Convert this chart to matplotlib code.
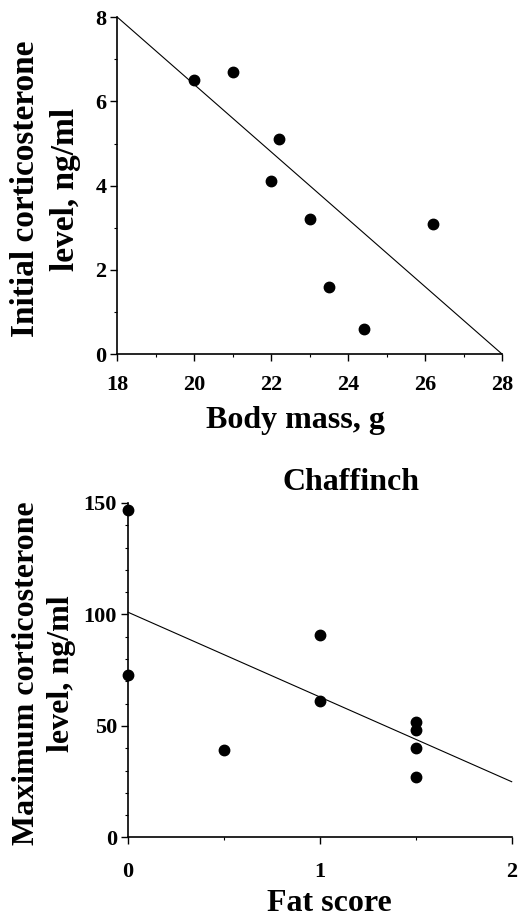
import matplotlib
matplotlib.use('Agg')
import matplotlib.pyplot as plt
import numpy as np
from matplotlib.ticker import MultipleLocator

# --- Data ---
# Panel 1: body mass vs initial corticosterone
body_mass = [20.0, 21.0, 22.2, 22.0, 23.0, 23.5, 24.4, 26.2]
cort_init = [6.5, 6.7, 5.1, 4.1, 3.2, 1.6, 0.6, 3.1]
fit1_x = [18, 28]
fit1_slope, fit1_icpt = -0.8, 22.4

# Panel 2: Chaffinch, fat score vs maximum corticosterone
fat_score = [0, 0, 0.5, 1, 1, 1.5, 1.5, 1.5, 1.5]
cort_max = [147, 73, 39, 91, 61, 52, 48, 40, 27]
fit2_x = [0, 2]
fit2_slope, fit2_icpt = -38.0, 101.0

plt.rcParams['font.family'] = ['Liberation Serif', 'DejaVu Serif']
plt.rcParams['font.weight'] = 'bold'

fig = plt.figure(figsize=(5.18, 9.21), dpi=100)

ax1 = fig.add_axes([0.2268, 0.6156, 0.7423, 0.3656])
ax2 = fig.add_axes([0.2471, 0.0907, 0.7407, 0.3632])


def style(ax):
    for s in ['top', 'right']:
        ax.spines[s].set_visible(False)
    for s in ['left', 'bottom']:
        ax.spines[s].set_linewidth(1.2)
    ax.tick_params(which='major', length=5, width=1.0, labelsize=16)
    ax.tick_params(which='minor', length=2.5, width=0.8)
    for lab in ax.get_xticklabels() + ax.get_yticklabels():
        lab.set_fontweight('bold')


# --- Panel 1 ---
xx = np.array(fit1_x)
ax1.plot(xx, fit1_slope * xx + fit1_icpt, color='black', lw=0.8, clip_on=False)
ax1.plot(body_mass, cort_init, 'o', color='black', ms=7.5, clip_on=False)
ax1.set_xlim(18, 28)
ax1.set_ylim(0, 8)
ax1.xaxis.set_major_locator(MultipleLocator(2))
ax1.xaxis.set_minor_locator(MultipleLocator(1))
ax1.yaxis.set_major_locator(MultipleLocator(2))
ax1.yaxis.set_minor_locator(MultipleLocator(1))
style(ax1)
ax1.tick_params(axis='x', which='major', pad=10)
ax1.tick_params(axis='y', which='major', pad=3)
ax1.set_ylabel('Initial corticosterone\nlevel, ng/ml', fontsize=24,
               fontweight='bold', linespacing=1.35, va='center', ha='center')
ax1.yaxis.set_label_coords(-0.187, 0.49)
ax1.set_xlabel('Body mass, g', fontsize=23, fontweight='bold', va='center')
ax1.xaxis.set_label_coords(0.464, -0.196)

# --- Panel 2 ---
xx = np.array(fit2_x)
ax2.plot(xx, fit2_slope * xx + fit2_icpt, color='black', lw=0.8, clip_on=False)
ax2.plot(fat_score, cort_max, 'o', color='black', ms=7.5, clip_on=False)
ax2.set_xlim(0, 2)
ax2.set_ylim(0, 150)
ax2.xaxis.set_major_locator(MultipleLocator(1))
ax2.xaxis.set_minor_locator(MultipleLocator(0.5))
ax2.yaxis.set_major_locator(MultipleLocator(50))
ax2.yaxis.set_minor_locator(MultipleLocator(10))
style(ax2)
ax2.tick_params(axis='x', which='major', pad=13)
ax2.tick_params(axis='y', which='major', pad=3)
ax2.set_ylabel('Maximum corticosterone\nlevel, ng/ml', fontsize=23,
               fontweight='bold', linespacing=1.25, va='center', ha='center')
ax2.yaxis.set_label_coords(-0.219, 0.49)
ax2.set_xlabel('Fat score', fontsize=23, fontweight='bold', va='center')
ax2.xaxis.set_label_coords(0.525, -0.198)
ax2.text(0.58, 1.06, 'Chaffinch', transform=ax2.transAxes, ha='center',
         va='center', fontsize=23, fontweight='bold')

fig.savefig('out.png', dpi=100)
